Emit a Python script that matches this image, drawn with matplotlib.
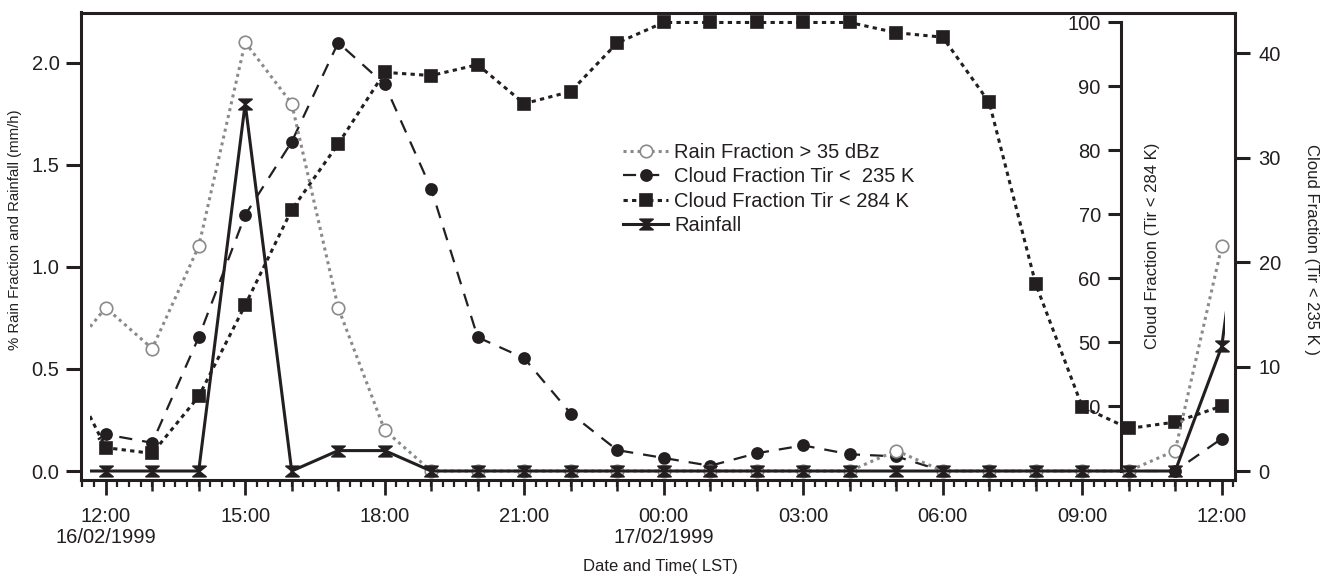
import numpy as np
import matplotlib.pyplot as plt
import matplotlib.transforms as mtransforms
from matplotlib.path import Path
from matplotlib.patches import Rectangle
from matplotlib.ticker import MultipleLocator

plt.rcParams['font.family'] = ['Liberation Sans', 'DejaVu Sans']

# hourly values, hours counted from 12:00 LST 16/02/1999 (first sample 11:00)
hours = np.arange(-1, 25)
rain_frac = [0.52, 0.8, 0.6, 1.1, 2.1, 1.8, 0.8, 0.2,
             0, 0, 0, 0, 0, 0, 0, 0, 0, 0,
             0.1, 0, 0, 0, 0, 0, 0.1, 1.1]
cloud_235 = [0.6, 3.5, 2.7, 12.8, 24.5, 31.5, 41.0, 37.0, 27.0, 12.8,
             10.8, 5.5, 2.0, 1.25, 0.5, 1.7, 2.45, 1.6, 1.4,
             0, 0, 0, 0, 0, 0, 3.1]
cloud_284 = [48, 33.5, 32.6, 41.5, 55.8, 70.7, 81.0, 92.2, 91.7, 93.4,
             87.3, 89.2, 96.8, 100, 100, 100, 100, 100, 98.4, 97.7,
             87.5, 59.1, 39.9, 36.5, 37.5, 40.0]
rain_hours = np.arange(-1, 26)
rainfall = [0, 0, 0, 0, 1.8, 0, 0.1, 0.1,
            0, 0, 0, 0, 0, 0, 0, 0, 0, 0, 0, 0, 0, 0, 0, 0, 0,
            0.61, 2.3]

tick_hours = np.arange(0, 25, 3)
tick_labels = ["12:00\n16/02/1999", "15:00", "18:00", "21:00",
               "00:00\n17/02/1999", "03:00", "06:00", "09:00", "12:00"]

ink = '#231f20'
grey = '#8a8a8a'

fig = plt.figure(figsize=(13.31, 5.78), dpi=100)
ax = fig.add_axes([81 / 1331, 1 - 480 / 578, 1154 / 1331, 467.5 / 578])
ax_out = ax.twinx()   # Tir < 235 K, outer right
ax_in = ax.twinx()    # Tir < 284 K, inner axis
ax.set_zorder(3)
ax.patch.set_visible(False)
ax_in.set_zorder(2)
ax_out.set_zorder(1)

ax.set_xlim(-0.531, 24.286)
ax.set_ylim(-0.044, 2.246)
ax_out.set_ylim(-0.86, 43.88)
ax_in.set_ylim(28.44, 101.56)

# lines stop at the plotting area, which sits a little inside the frame
clip = Rectangle((-0.338, 0), 24.07 + 0.338, 1,
                 transform=mtransforms.blended_transform_factory(ax.transData, ax.transAxes))

hourglass = Path([(-1, 0.8), (1, 0.8), (0, 0), (-1, 0.8),
                  (-1, -0.8), (1, -0.8), (0, 0), (-1, -0.8)],
                 [Path.MOVETO, Path.LINETO, Path.LINETO, Path.CLOSEPOLY,
                  Path.MOVETO, Path.LINETO, Path.LINETO, Path.CLOSEPOLY])


def series(axis, t, y, color, ls, lw, marker, ms, mfc, z, mew=1.2):
    line, = axis.plot(t, y, color=color, ls=ls, lw=lw, zorder=z)
    line.set_clip_path(clip)
    pts, = axis.plot(t, y, ls='none', marker=marker, ms=ms, mfc=mfc,
                     mec=color, mew=mew, zorder=z + 0.5)
    return line, pts


h284 = series(ax_in, hours, cloud_284, ink, (0, (1.4, 1.4)), 2.2, 's', 9, ink, 2)
h235 = series(ax_out, hours, cloud_235, ink, (0, (5.9, 4.5)), 1.6, 'o', 8, ink, 2)
hrf = series(ax, hours, rain_frac, grey, (0, (1.0, 1.3)), 2.2, 'o', 9, 'white', 2)
hrain = series(ax, rain_hours, rainfall, ink, '-', 2.2, hourglass, 9.5, ink, 4)

# frame and spines
for a in (ax, ax_out, ax_in):
    for s in a.spines.values():
        s.set_visible(False)
        s.set_linewidth(2.2)
        s.set_color(ink)
for side in ('left', 'top', 'bottom'):
    ax.spines[side].set_visible(True)
ax_out.spines['right'].set_visible(True)
ax_in.spines['left'].set_visible(True)
ax_in.spines['left'].set_position(('axes', 1040 / 1154))
ax_in.spines['left'].set_bounds(29.85, 100)
ax_in.yaxis.set_ticks_position('left')

# x axis: 3-hourly labels, hourly and quarter-hour ticks
ax.set_xticks(tick_hours)
ax.set_xticklabels(tick_labels)
ax.xaxis.set_minor_locator(MultipleLocator(0.25))
ax.tick_params(axis='x', which='major', length=10.5, width=2.0, color=ink,
               labelsize=14.5, pad=9, labelcolor=ink)
ax.tick_params(axis='x', which='minor', length=5, width=1.6, color=ink)
for lab in ax.get_xticklabels():
    lab.set_linespacing(1.1)
hour_ax = ax.secondary_xaxis('bottom')
hour_ax.set_xticks([h for h in range(0, 25) if h % 3])
hour_ax.set_xticklabels([])
hour_ax.tick_params(length=8, width=1.8, color=ink)
hour_ax.spines['bottom'].set_visible(False)

ax.set_yticks([0, 0.5, 1.0, 1.5, 2.0])
ax.set_yticklabels(['0.0', '0.5', '1.0', '1.5', '2.0'])
ax.tick_params(axis='y', length=10.5, width=2.2, color=ink, labelsize=14.5,
               pad=5, labelcolor=ink)
ax_out.set_yticks([0, 10, 20, 30, 40])
ax_out.tick_params(axis='y', length=10.5, width=2.2, color=ink, labelsize=14.5,
                   pad=6.5, labelcolor=ink)
ax_in.set_yticks(range(40, 101, 10))
ax_in.tick_params(axis='y', length=9.5, width=2.2, color=ink, labelsize=14.5,
                  pad=5, labelcolor=ink)

fig.text(15 / 1331, 1 - 230 / 578, "% Rain Fraction and Rainfall (mm/h)",
         rotation=90, ha='center', va='center', fontsize=10.7, color=ink)
fig.text(1153 / 1331, 1 - 246 / 578, "Cloud Fraction (Tir < 284 K)",
         rotation=90, ha='center', va='center', fontsize=12, color=ink)
fig.text(1312 / 1331, 1 - 250 / 578, "Cloud Fraction (Tir < 235 K )",
         rotation=-90, ha='center', va='center', fontsize=12, color=ink)
fig.text(660 / 1331, 1 - 566 / 578, "Date and Time( LST)",
         ha='center', va='center', fontsize=12, color=ink)

fig.legend([hrf, h235, h284, hrain],
           ["Rain Fraction > 35 dBz", "Cloud Fraction Tir <  235 K",
            "Cloud Fraction Tir < 284 K", "Rainfall"],
           loc='upper left', bbox_to_anchor=(623 / 1331, 1 - 143 / 578),
           frameon=False, fontsize=14.5, handlelength=2.25, handletextpad=0.3,
           labelspacing=0.27, borderpad=0, borderaxespad=0, labelcolor=ink)

fig.savefig('out.png', dpi=100, facecolor='white')
